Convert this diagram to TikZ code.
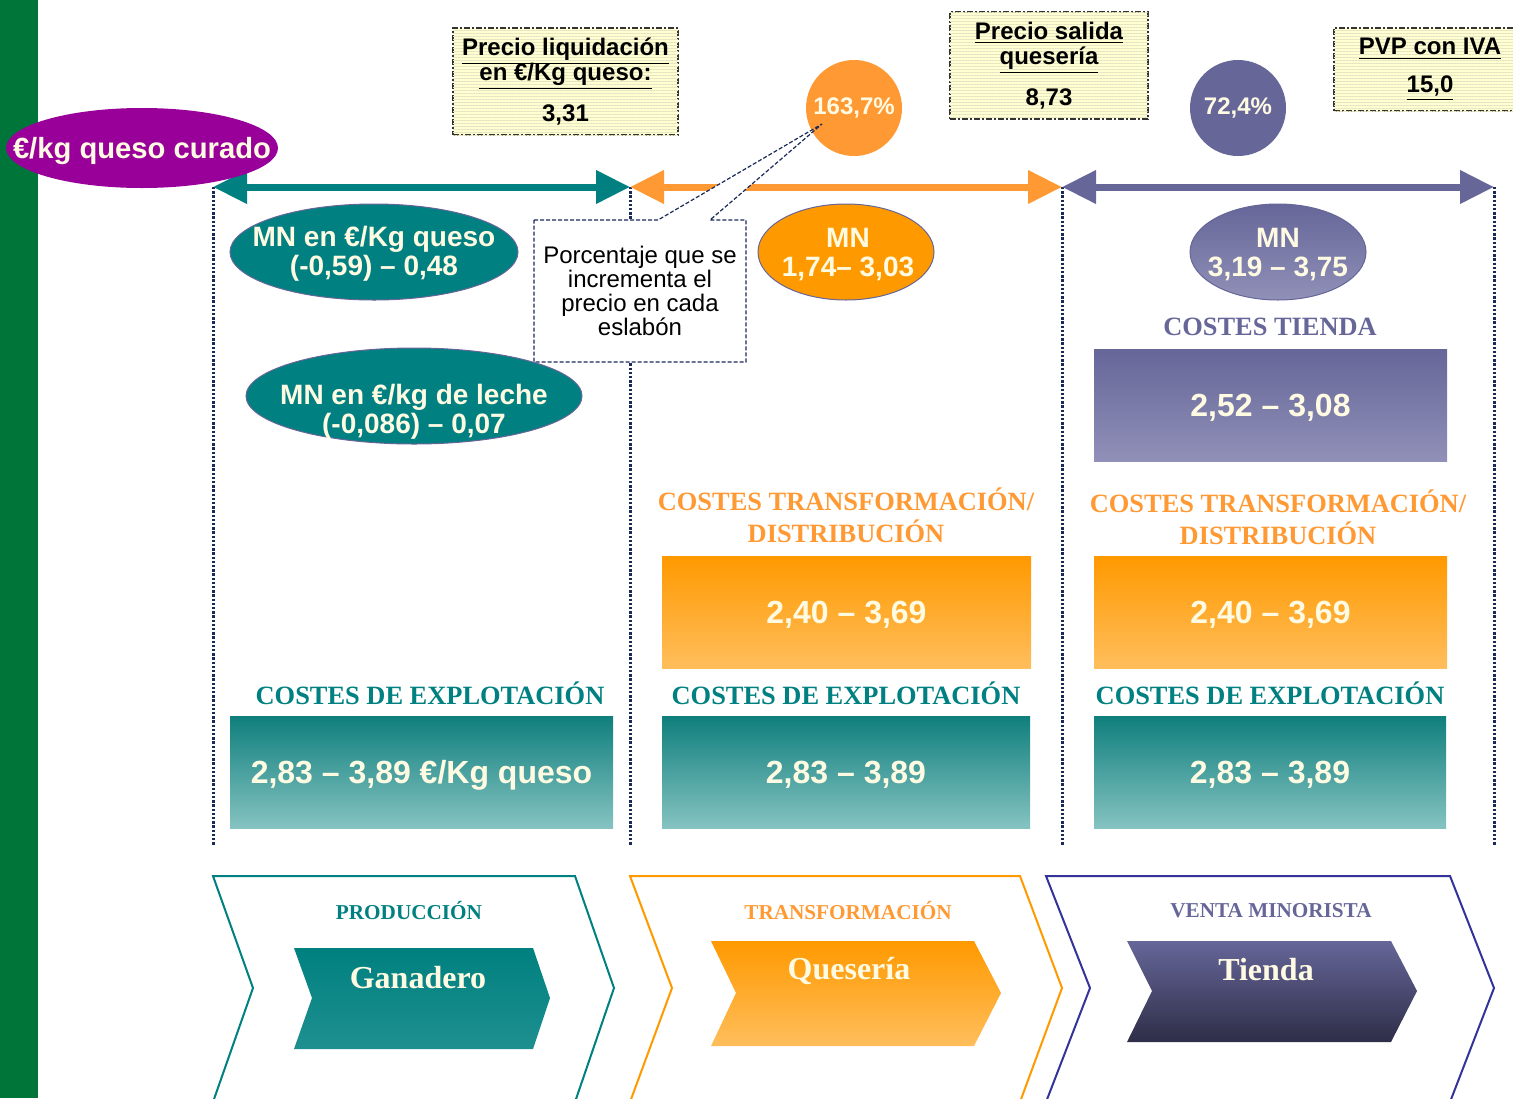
\documentclass[tikz,border=0pt]{standalone}
\usepackage{fontspec}
\setmainfont{Liberation Sans}
\newfontfamily\titlefont{Liberation Serif}
\usetikzlibrary{arrows.meta,shapes.geometric,patterns.meta}
\definecolor{bargreen}{HTML}{00753A}
\definecolor{curadopurple}{HTML}{990099}
\definecolor{tealc}{HTML}{008080}
\definecolor{tealtop}{HTML}{0F7F7D}
\definecolor{tealbot}{HTML}{85C3C1}
\definecolor{orangec}{HTML}{FF9933}
\definecolor{orangetop}{HTML}{FF9900}
\definecolor{orangebot}{HTML}{FFBE5C}
\definecolor{slate}{HTML}{666699}
\definecolor{slatelight}{HTML}{9090B8}
\definecolor{slatedark}{HTML}{2E2E48}
\definecolor{navydot}{HTML}{1A2A58}
\definecolor{boxyellow}{HTML}{FFFFD2}
\definecolor{stripe}{HTML}{E4E4C4}
\definecolor{cream}{HTML}{FFFBE3}
\definecolor{frameblue}{HTML}{333399}
\definecolor{frameorange}{HTML}{FF9900}
\begin{document}
\begin{tikzpicture}[x=0.5pt,y=-0.5pt,
  price arrow/.style={line width=3.5pt,{Triangle[length=17pt,width=16pt]}-{Triangle[length=17pt,width=16pt]}},
  link/.style={navydot,line width=1.5pt,dash pattern=on 1.2pt off 0.9pt},
  price box/.style={draw=black!80,line width=0.6pt,dash pattern=on 3pt off 1pt on 1pt off 1pt,
    fill=boxyellow,postaction={pattern={Lines[angle=0,distance=1.5pt,line width=0.4pt]},pattern color=stripe},
    inner sep=0pt,align=center,font=\fontsize{12}{12.5}\selectfont\bfseries},
  mn oval/.style={ellipse,draw=slate,line width=0.5pt,inner sep=0pt},
  oval text/.style={text=cream,align=center,inner sep=0pt,font=\fontsize{14}{14.5}\selectfont\bfseries},
  pct circle/.style={circle,inner sep=0pt,minimum size=48pt,text=cream,font=\fontsize{12}{12}\selectfont\bfseries},
  cost box/.style={rectangle,inner sep=0pt,minimum height=56pt,text height=11.5pt,text depth=0pt,
    text=cream,font=\fontsize{16}{18}\selectfont\bfseries},
  cost title/.style={align=center,inner sep=0pt,font=\titlefont\bfseries\fontsize{13.2}{16}\selectfont},
  stage frame/.style={line width=1pt},
  stage title/.style={inner sep=0pt,font=\titlefont\bfseries\fontsize{10.6}{12}\selectfont},
  stage name/.style={inner sep=0pt,text=cream,font=\titlefont\bfseries\fontsize{16}{18}\selectfont}]

\clip (0,0) rectangle (1513,1098);
\fill[bargreen] (0,0) rectangle (38,1098);

\coordinate (t0) at (213,187);
\coordinate (t1) at (630,187);
\coordinate (t2) at (1062,187);
\coordinate (t3) at (1494,187);
\coordinate (b0) at (213,845);
\coordinate (b1) at (630,845);
\coordinate (b2) at (1062,845);
\coordinate (b3) at (1494,845);
\foreach \i in {0,...,3}
  \draw[link] (t\i) -- (b\i);

\draw[price arrow,tealc] (t0) -- (t1);
\draw[price arrow,orangec] (t1) -- (t2);
\draw[price arrow,slate] (t2) -- (t3);

\node[ellipse,fill=curadopurple,inner sep=0pt,minimum width=136pt,minimum height=40pt] (curado) at (142,148) {};
\node[oval text,font=\fontsize{14.6}{15}\selectfont\bfseries] (curado text) at (142,151) {€/kg queso curado};

\node[price box,minimum width=112.5pt,minimum height=53.5pt] (liquidacion) at (565.5,81.5)
  {\underline{Precio liquidación}\\[-1.5pt] \underline{en €/Kg queso:}\\[6.5pt] 3,31};
\node[price box,minimum width=99pt,minimum height=53.5pt] (salida) at (1049,65.5)
  {\underline{Precio salida}\\ \underline{quesería}\\[6.5pt] 8,73};
\node[price box,minimum width=96pt,minimum height=41.5pt] (pvp) at (1430,69.5)
  {\underline{PVP con IVA}\\[6.5pt] \underline{15,0}};

\coordinate (tip) at (822,124);
\fill[white] (534,220) -- (658,220) -- (tip) -- (710,220) -- (746,220) -- (746,362) -- (534,362) -- cycle;

\node[pct circle,fill=orangec] (pct queseria) at (854,108) {\raisebox{-1pt}{163,7\%}};
\node[pct circle,fill=slate] (pct tienda) at (1238,108) {\raisebox{-1pt}{72,4\%}};

\draw[navydot,line width=0.6pt,dash pattern=on 2pt off 1pt] (534,220) -- (658,220) -- (tip) -- (710,220) -- (746,220) -- (746,362) -- (534,362) -- cycle;
\node[align=center,inner sep=0pt,font=\fontsize{12}{12}\selectfont] (callout) at (640,291)
  {Porcentaje que se\\incrementa el\\precio en cada\\eslabón};

\node[mn oval,fill=tealc,minimum width=144pt,minimum height=48pt] (mn queso) at (374,252) {};
\node[oval text] (mn queso text) at (374,254) {MN en €/Kg queso\\(-0,59) -- 0,48};
\node[mn oval,fill=tealc,minimum width=168pt,minimum height=48pt] (mn leche) at (414,396) {};
\node[oval text] (mn leche text) at (414,412) {MN en €/kg de leche\\(-0,086) -- 0,07};
\node[mn oval,fill=orangetop,minimum width=88pt,minimum height=48pt] (mn queseria) at (846,252) {};
\node[oval text] (mn queseria text) at (848,255) {MN\\1,74-- 3,03};
\node[mn oval,top color=slate,bottom color=slatelight,minimum width=88pt,minimum height=48pt] (mn tienda) at (1278,252) {};
\node[oval text] (mn tienda text) at (1278,255) {MN\\3,19 -- 3,75};

\node[cost title,text=slate] (tit tienda) at (1270,327) {COSTES TIENDA};
\node[cost box,top color=slate,bottom color=slatelight,minimum width=176.5pt] (cost tienda) at (1270.5,405) {2,52 -- 3,08};

\node[cost title,text=orangec] (tit transf1) at (846,515) {COSTES TRANSFORMACIÓN/\\DISTRIBUCIÓN};
\node[cost title,text=orangec] (tit transf2) at (1278,517) {COSTES TRANSFORMACIÓN/\\DISTRIBUCIÓN};
\node[cost box,top color=orangetop,bottom color=orangebot,minimum width=184.5pt] (cost transf1) at (846.5,612) {2,40 -- 3,69};
\node[cost box,top color=orangetop,bottom color=orangebot,minimum width=176.5pt] (cost transf2) at (1270.5,612) {2,40 -- 3,69};

\node[cost title,text=tealc] (tit expl1) at (430,693) {COSTES DE EXPLOTACIÓN};
\node[cost title,text=tealc] (tit expl2) at (846,693) {COSTES DE EXPLOTACIÓN};
\node[cost title,text=tealc] (tit expl3) at (1270,693) {COSTES DE EXPLOTACIÓN};
\node[cost box,top color=tealtop,bottom color=tealbot,minimum width=191.5pt] (cost expl1) at (421.5,772) {2,83 -- 3,89 €/Kg queso};
\node[cost box,top color=tealtop,bottom color=tealbot,minimum width=184pt] (cost expl2) at (846,772) {2,83 -- 3,89};
\node[cost box,top color=tealtop,bottom color=tealbot,minimum width=176pt] (cost expl3) at (1270,772) {2,83 -- 3,89};

\draw[stage frame,tealc] (213,876) -- (575,876) -- (614,988) -- (575,1102) -- (213,1102) -- (253,988) -- cycle;
\draw[stage frame,frameorange] (630,876) -- (1020,876) -- (1062,988) -- (1020,1102) -- (630,1102) -- (672,988) -- cycle;
\draw[stage frame,frameblue] (1046,876) -- (1450,876) -- (1494,988) -- (1450,1102) -- (1046,1102) -- (1090,988) -- cycle;

\shade[top color=tealc,bottom color=tealc!88!white] (294,948) -- (533,948) -- (550,998) -- (533,1049) -- (294,1049) -- (312,998) -- cycle;
\shade[top color=orangetop,bottom color=orangebot] (711,941) -- (974,941) -- (1001,993) -- (974,1046) -- (711,1046) -- (736,993) -- cycle;
\shade[top color=slate,bottom color=slatedark] (1127,941) -- (1391,941) -- (1417,991) -- (1391,1042) -- (1127,1042) -- (1152,991) -- cycle;

\node[stage title,text=tealc] (produccion) at (409,910) {PRODUCCIÓN};
\node[stage title,text=orangec] (transformacion) at (848,910) {TRANSFORMACIÓN};
\node[stage title,text=slate] (venta) at (1271,911) {VENTA MINORISTA};
\node[stage name] (ganadero) at (418,978) {Ganadero};
\node[stage name] (queseria) at (849,971) {Quesería};
\node[stage name] (tienda) at (1266,970) {Tienda};
\end{tikzpicture}
\end{document}
